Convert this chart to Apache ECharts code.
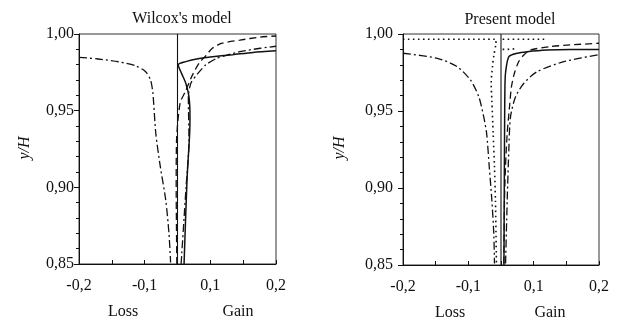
<!DOCTYPE html>
<html><head><meta charset="utf-8">
<script src="https://cdn.jsdelivr.net/npm/echarts@6/dist/echarts.min.js"></script>
<style>html,body{margin:0;padding:0;background:#fff}#c{width:619px;height:327px}</style>
</head><body><div id="c"></div>
<script>
// ---- data (x = Loss/Gain value as labelled, y = y/H) ----
const xTickLabels = {'-3':'-0,2','-1':'-0,1','1':'0,1','3':'0,2'};
const yTicks = [0.85, 0.90, 0.95, 1.00];
const panelTitles = ["Wilcox's model", "Present model"];

// Wilcox's model
const wLossDashDot = [[-0.2,0.9848],[-0.171,0.9837],[-0.14,0.9819],[-0.114,0.9793],[-0.097,0.9754],[-0.082,0.970],[-0.075,0.9615],[-0.066,0.935],[-0.052,0.913],[-0.036,0.892],[-0.026,0.870],[-0.021,0.851]];
const wSolid = [[0.020,0.850],[0.029,0.905],[0.037,0.935],[0.038,0.946],[0.035,0.959],[0.025,0.968],[0.013,0.974],[0.002,0.980],[0.025,0.982],[0.066,0.984],[0.10,0.985],[0.134,0.9865],[0.165,0.988],[0.20,0.989]];
const wDashed = [[-0.002,0.850],[-0.004,0.900],[-0.003,0.930],[0.008,0.955],[0.025,0.963],[0.045,0.973],[0.066,0.981],[0.087,0.986],[0.103,0.9907],[0.118,0.994],[0.145,0.996],[0.176,0.998],[0.20,0.9987]];
const wGainDashDot = [[0.011,0.850],[0.026,0.900],[0.035,0.930],[0.033,0.959],[0.041,0.968],[0.061,0.974],[0.087,0.980],[0.109,0.984],[0.124,0.986],[0.145,0.9885],[0.176,0.9907],[0.20,0.992]];

// Present model
const pLossDashDot = [[-0.2,0.9875],[-0.1475,0.9842],[-0.117,0.9788],[-0.093,0.970],[-0.068,0.9593],[-0.053,0.9463],[-0.044,0.9355],[-0.036,0.9138],[-0.028,0.892],[-0.022,0.870],[-0.020,0.851]];
const pLossDotted = [[-0.2,0.9966],[-0.015,0.9966],[-0.016,0.993],[-0.022,0.986],[-0.026,0.979],[-0.030,0.968],[-0.028,0.957],[-0.024,0.9355],[-0.020,0.914],[-0.017,0.892],[-0.014,0.851]];
const pGainDottedTop = [[0.005,0.9966],[0.12,0.9966]];
const pGainDottedLow = [[0.005,0.990],[0.02,0.990],[0.05,0.9905]];
const pSolid = [[0.009,0.850],[0.010,0.900],[0.011,0.940],[0.012,0.965],[0.014,0.975],[0.024,0.9853],[0.0495,0.9875],[0.080,0.9885],[0.12,0.9896],[0.156,0.990],[0.187,0.990],[0.20,0.990]];
const pDashed = [[0.0086,0.851],[0.0107,0.892],[0.0138,0.9138],[0.019,0.9355],[0.027,0.955],[0.032,0.9658],[0.041,0.9745],[0.054,0.982],[0.070,0.9864],[0.090,0.9896],[0.1256,0.9918],[0.156,0.9929],[0.20,0.994]];
const pGainDashDot = [[0.014,0.851],[0.019,0.892],[0.024,0.925],[0.029,0.946],[0.044,0.959],[0.070,0.968],[0.105,0.9755],[0.146,0.982],[0.20,0.9866]];

// the printed x axis is non-uniform: 0..0.1 spans one tick step, 0.1..0.2 spans two
function toAxis(x){const a=Math.abs(x),s=x<0?-1:1;return a<=0.1? x/0.1 : s*(1+(a-0.1)/0.05);}
function tr(arr){return arr.map(p=>[toAxis(p[0]),p[1]]);}

const FONT='"Liberation Serif", "DejaVu Serif", serif';
const INK='#111';
const DASH=[7,4], DASHDOT=[8,3,2,3], DOT=[1.6,3.4];

function line(data,idx,type,w,sm){
  return {type:'line',xAxisIndex:idx,yAxisIndex:idx,data:tr(data),showSymbol:false,symbol:'none',
    smooth:sm===undefined?0.25:sm,lineStyle:{color:INK,width:w||1.3,type:type,cap:'butt'},silent:true,animation:false,z:3};
}
function vline(idx){
  return {type:'line',xAxisIndex:idx,yAxisIndex:idx,data:[[0,0.85],[0,1]],symbol:'none',
    lineStyle:{color:INK,width:1.1},silent:true,animation:false,z:2};
}
function xAxis(idx){
  return {type:'value',gridIndex:idx,min:-3,max:3,interval:1,
    axisLine:{show:true,onZero:false,lineStyle:{color:INK,width:1}},
    axisTick:{show:true,inside:true,length:4,lineStyle:{color:INK}},
    splitLine:{show:false},
    axisLabel:{margin:14,color:INK,fontFamily:FONT,fontSize:16,formatter:v=>xTickLabels[String(v)]||''}};
}
function yAxis(idx,margin){
  return {type:'value',gridIndex:idx,min:0.85,max:1.0,interval:0.05,
    axisLine:{show:true,onZero:false,lineStyle:{color:INK,width:1}},
    axisTick:{show:true,inside:false,length:5,lineStyle:{color:INK}},
    minorTick:{show:true,splitNumber:5,length:3,lineStyle:{color:INK}},
    splitLine:{show:false},
    axisLabel:{margin:margin,color:INK,fontFamily:FONT,fontSize:16,formatter:v=>v.toFixed(2).replace('.',',')}};
}
function txt(x,y,t,opts){
  return Object.assign({type:'text',x:x,y:y,style:{text:t,font:'16px '+FONT,fill:INK,textAlign:'center',textVerticalAlign:'middle'}},opts||{});
}

const chart=echarts.init(document.getElementById('c'),null,{renderer:'canvas'});
chart.setOption({
  backgroundColor:'#fff',
  animation:false,
  grid:[
    {left:79,right:343,top:34,bottom:63,show:true,borderColor:'#333',borderWidth:1,backgroundColor:'transparent'},
    {left:403,right:20,top:34,bottom:62,show:true,borderColor:'#333',borderWidth:1,backgroundColor:'transparent'}
  ],
  xAxis:[xAxis(0),xAxis(1)],
  yAxis:[yAxis(0,5),yAxis(1,10)],
  series:[
    vline(0),vline(1),
    line(wLossDashDot,0,DASHDOT),line(wSolid,0,'solid',1.5),line(wDashed,0,DASH),line(wGainDashDot,0,DASHDOT),
    line(pLossDashDot,1,DASHDOT),line(pLossDotted,1,DOT,1.6),line(pGainDottedTop,1,DOT,1.6,0),line(pGainDottedLow,1,DOT,1.6,0),
    line(pSolid,1,'solid',1.5),line(pDashed,1,DASH),line(pGainDashDot,1,DASHDOT)
  ],
  graphic:[
    txt(182,19,panelTitles[0]),
    txt(510,20,panelTitles[1]),
    {type:'text',x:25,y:148,rotation:Math.PI/2,style:{text:'y/H',font:'italic 16px '+FONT,fill:INK,textAlign:'center',textVerticalAlign:'middle'}},
    {type:'text',x:340,y:148,rotation:Math.PI/2,style:{text:'y/H',font:'italic 16px '+FONT,fill:INK,textAlign:'center',textVerticalAlign:'middle'}},
    txt(123,312,'Loss'),txt(238,312,'Gain'),
    txt(450,313,'Loss'),txt(550,313,'Gain')
  ]
});
</script></body></html>
